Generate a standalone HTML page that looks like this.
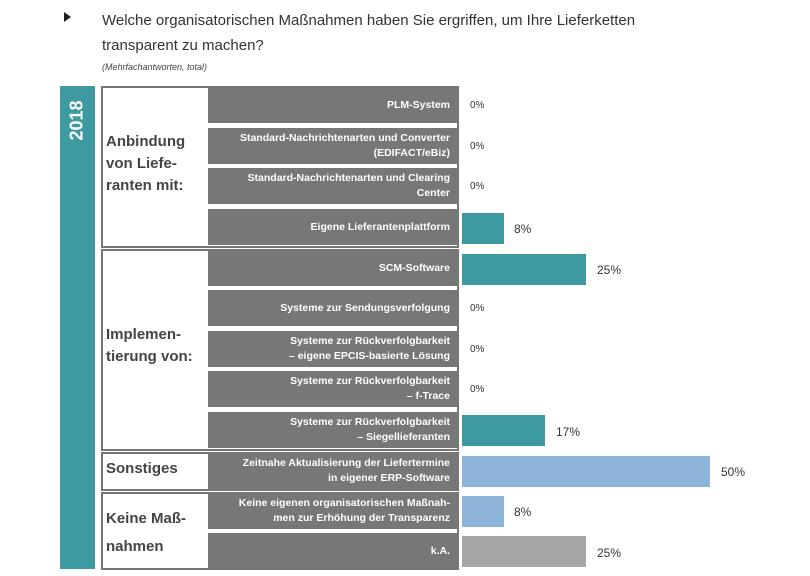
<!DOCTYPE html>
<html><head><meta charset="utf-8"><style>
body{margin:0;width:810px;height:576px;background:#fff;position:relative;overflow:hidden;font-family:"Liberation Sans",sans-serif}
.a{position:absolute}
.cell{position:absolute;left:208px;width:250px;height:36px;background:#777;color:#fff;font-weight:bold;font-size:10.5px;text-align:right;display:flex;flex-direction:column;justify-content:center;align-items:flex-end;padding-right:8px;box-sizing:border-box;line-height:15px}
.bar{position:absolute;left:462px;height:31px}
.pct{position:absolute;font-size:12px;color:#333}
.grp{position:absolute;left:101px;width:358px;border:2px solid #777;box-sizing:border-box;background:#fff}
.gl{position:absolute;left:106px;font-size:15px;font-weight:bold;color:#444;line-height:22px}
</style></head><body>
<div class="a" style="left:64px;top:12px;width:0;height:0;border-left:7px solid #222;border-top:5px solid transparent;border-bottom:5px solid transparent"></div>
<div class="a" style="left:102px;top:8px;font-size:15px;color:#333;line-height:25px">Welche organisatorischen Maßnahmen haben Sie ergriffen, um Ihre Lieferketten<br>transparent zu machen?</div>
<div class="a" style="left:102px;top:62px;font-size:9px;font-style:italic;color:#444">(Mehrfachantworten, total)</div>
<div class="a" style="left:60px;top:86px;width:35px;height:483px;background:#3e9aa1"></div>
<div class="a" style="left:60px;top:90px;width:35px;height:60px;display:flex;align-items:center;justify-content:center"><div style="transform:rotate(-90deg);color:#fff;font-weight:bold;font-size:18px">2018</div></div>
<div class="grp" style="top:86px;height:162px"></div>
<div class="grp" style="top:249px;height:202px"></div>
<div class="grp" style="top:452px;height:39px"></div>
<div class="grp" style="top:492px;height:78px"></div>
<div class="gl" style="top:131px">Anbindung<br>von Liefe-<br>ranten mit:</div>
<div class="gl" style="top:324px">Implemen-<br>tierung von:</div>
<div class="gl" style="top:458px">Sonstiges</div>
<div class="gl" style="top:505px;line-height:28px">Keine Maß-<br>nahmen</div>

<div class="cell" style="top:87px">PLM-System</div>
<div class="cell" style="top:128px">Standard-Nachrichtenarten und Converter<br>(EDIFACT/eBiz)</div>
<div class="cell" style="top:168px">Standard-Nachrichtenarten und Clearing<br>Center</div>
<div class="cell" style="top:209px">Eigene Lieferantenplattform</div>
<div class="cell" style="top:250px">SCM-Software</div>
<div class="cell" style="top:290px">Systeme zur Sendungsverfolgung</div>
<div class="cell" style="top:331px">Systeme zur Rückverfolgbarkeit<br>– eigene EPCIS-basierte Lösung</div>
<div class="cell" style="top:371px">Systeme zur Rückverfolgbarkeit<br>– f-Trace</div>
<div class="cell" style="top:412px">Systeme zur Rückverfolgbarkeit<br>– Siegellieferanten</div>
<div class="cell" style="top:453px">Zeitnahe Aktualisierung der Liefertermine<br>in eigener ERP-Software</div>
<div class="cell" style="top:493px">Keine eigenen organisatorischen Maßnah-<br>men zur Erhöhung der Transparenz</div>
<div class="cell" style="top:533px">k.A.</div>

<div class="pct" style="left:470px;top:100px;font-size:10px">0%</div>
<div class="pct" style="left:470px;top:141px;font-size:10px">0%</div>
<div class="pct" style="left:470px;top:181px;font-size:10px">0%</div>
<div class="bar" style="top:213px;width:42px;background:#3e9aa1"></div><div class="pct" style="left:514px;top:222px">8%</div>
<div class="bar" style="top:254px;width:124px;background:#3e9aa1"></div><div class="pct" style="left:597px;top:263px">25%</div>
<div class="pct" style="left:470px;top:303px;font-size:10px">0%</div>
<div class="pct" style="left:470px;top:344px;font-size:10px">0%</div>
<div class="pct" style="left:470px;top:384px;font-size:10px">0%</div>
<div class="bar" style="top:415px;width:83px;background:#3e9aa1"></div><div class="pct" style="left:556px;top:425px">17%</div>
<div class="bar" style="top:456px;width:248px;background:#8db4d9"></div><div class="pct" style="left:721px;top:465px">50%</div>
<div class="bar" style="top:496px;width:42px;background:#8db4d9"></div><div class="pct" style="left:514px;top:505px">8%</div>
<div class="bar" style="top:536px;width:124px;background:#a6a6a6"></div><div class="pct" style="left:597px;top:546px">25%</div>
</body></html>
